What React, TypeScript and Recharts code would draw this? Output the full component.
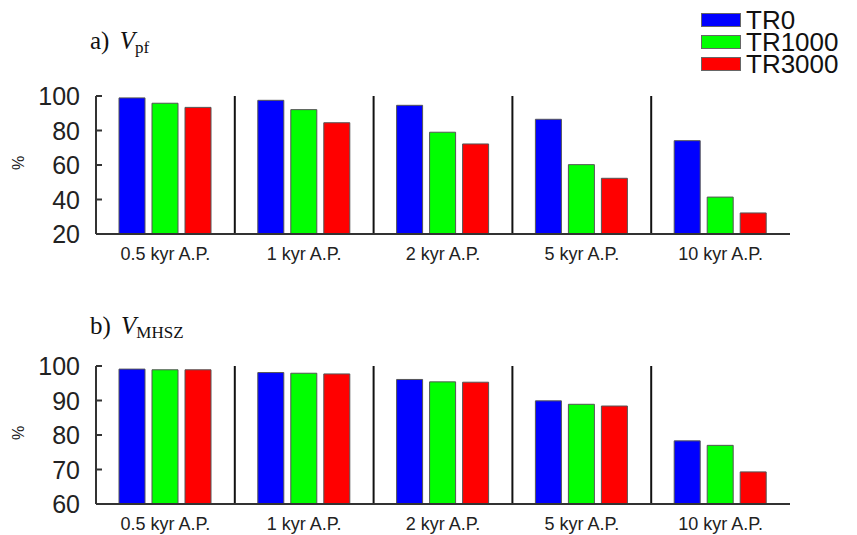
import React from "react";
import {
  Bar,
  BarChart,
  ReferenceLine,
  XAxis,
  YAxis,
} from "recharts";

const periods = ["0.5 kyr A.P.", "1 kyr A.P.", "2 kyr A.P.", "5 kyr A.P.", "10 kyr A.P."];

// permafrost volume, % of initial
const pfTR0 = [98.9, 97.5, 94.6, 86.5, 74.1];
const pfTR1000 = [95.8, 92.1, 79.0, 60.2, 41.4];
const pfTR3000 = [93.4, 84.5, 72.2, 52.3, 32.2];

// methane hydrate stability zone volume, % of initial
const mhszTR0 = [99.1, 98.1, 96.1, 89.9, 78.3];
const mhszTR1000 = [98.9, 97.9, 95.4, 88.9, 77.0];
const mhszTR3000 = [98.9, 97.7, 95.3, 88.4, 69.3];

const pfTicks = [20, 40, 60, 80, 100];
const mhszTicks = [60, 70, 80, 90, 100];

const series = [
  { key: "tr0", name: "TR0", color: "#0000ff" },
  { key: "tr1000", name: "TR1000", color: "#00ff00" },
  { key: "tr3000", name: "TR3000", color: "#ff0000" },
];

const SANS = "'Liberation Sans', Arial, Helvetica, sans-serif";
const SERIF = "'Liberation Serif', 'Times New Roman', serif";
const AXIS = "#333333";

function buildRows(a: number[], b: number[], c: number[]) {
  return periods.map((period, i) => ({
    period,
    tr0: a[i],
    tr1000: b[i],
    tr3000: c[i],
  }));
}

const pfRows = buildRows(pfTR0, pfTR1000, pfTR3000);
const mhszRows = buildRows(mhszTR0, mhszTR1000, mhszTR3000);

function InwardTick(props: any) {
  const { x, y, payload } = props;
  return (
    <g>
      <line x1={x} x2={x + 6} y1={y} y2={y} stroke={AXIS} strokeWidth={2} />
      <text
        x={x - 16}
        y={y}
        dy="0.36em"
        textAnchor="end"
        fontFamily={SANS}
        fontSize={25}
        fill="#222"
      >
        {payload.value}
      </text>
    </g>
  );
}

// shared legend for both panels, top right
function SeriesLegend() {
  return (
    <div
      style={{
        position: "absolute",
        left: 701,
        top: 9,
        fontFamily: SANS,
        fontSize: 26,
        lineHeight: "22px",
        color: "#111",
      }}
    >
      {series.map((s) => (
        <div key={s.key} style={{ display: "flex", alignItems: "center", height: 22 }}>
          <span
            style={{
              display: "inline-block",
              width: 38,
              height: 12,
              background: s.color,
              border: "1px solid #666",
              marginRight: 5,
            }}
          />
          <span>{s.name}</span>
        </div>
      ))}
    </div>
  );
}

interface PanelProps {
  rows: typeof pfRows;
  ticks: number[];
  top: number;
  height: number;
  marginTop: number;
  xHeight: number;
}

function Panel({ rows, ticks, top, height, marginTop, xHeight }: PanelProps) {
  return (
    <div style={{ position: "absolute", left: 0, top }}>
      <BarChart
        width={857}
        height={height}
        data={rows}
        margin={{ top: marginTop, right: 67, left: 0, bottom: 0 }}
        barSize={26}
        barGap={7}
      >
        <XAxis
          dataKey="period"
          height={xHeight}
          tickLine={false}
          tickSize={0}
          tickMargin={13}
          axisLine={{ stroke: AXIS, strokeWidth: 2 }}
          tick={{ fontFamily: SANS, fontSize: 18, fill: "#222" }}
          interval={0}
        />
        <YAxis
          width={96}
          domain={[ticks[0], ticks[ticks.length - 1]]}
          ticks={ticks}
          tickLine={false}
          tickSize={0}
          tickMargin={0}
          axisLine={{ stroke: AXIS, strokeWidth: 2 }}
          tick={<InwardTick />}
          interval={0}
        />
        {periods.slice(1).map((p) => (
          <ReferenceLine key={p} x={p} position="start" stroke="#111" strokeWidth={2} />
        ))}
        {series.map((s) => (
          <Bar
            key={s.key}
            dataKey={s.key}
            name={s.name}
            fill={s.color}
            stroke="#555"
            strokeWidth={1}
            isAnimationActive={false}
          />
        ))}
      </BarChart>
    </div>
  );
}

function Title({ letter, sub, top }: { letter: string; sub: string; top: number }) {
  return (
    <div
      style={{
        position: "absolute",
        left: 90,
        top,
        fontFamily: SERIF,
        fontSize: 25,
        color: "#111",
        whiteSpace: "nowrap",
      }}
    >
      {letter}){" "}
      <i style={{ marginLeft: 4 }}>V</i>
      <sub style={{ fontSize: 17, verticalAlign: "-0.25em" }}>{sub}</sub>
    </div>
  );
}

function PercentLabel({ top }: { top: number }) {
  return (
    <div
      style={{
        position: "absolute",
        left: 12,
        top,
        fontFamily: SANS,
        fontSize: 16,
        color: "#222",
        transform: "rotate(-90deg)",
      }}
    >
      %
    </div>
  );
}

export default function App() {
  return (
    <div style={{ position: "absolute", left: 0, top: 0, width: 857, height: 535, background: "#fff" }}>
      <Panel rows={pfRows} ticks={pfTicks} top={0} height={270} marginTop={96} xHeight={36} />
      <Panel rows={mhszRows} ticks={mhszTicks} top={268} height={267} marginTop={98} xHeight={31} />
      <SeriesLegend />
      <Title letter="a" sub="pf" top={27} />
      <Title letter="b" sub="MHSZ" top={312} />
      <PercentLabel top={154} />
      <PercentLabel top={424} />
    </div>
  );
}
